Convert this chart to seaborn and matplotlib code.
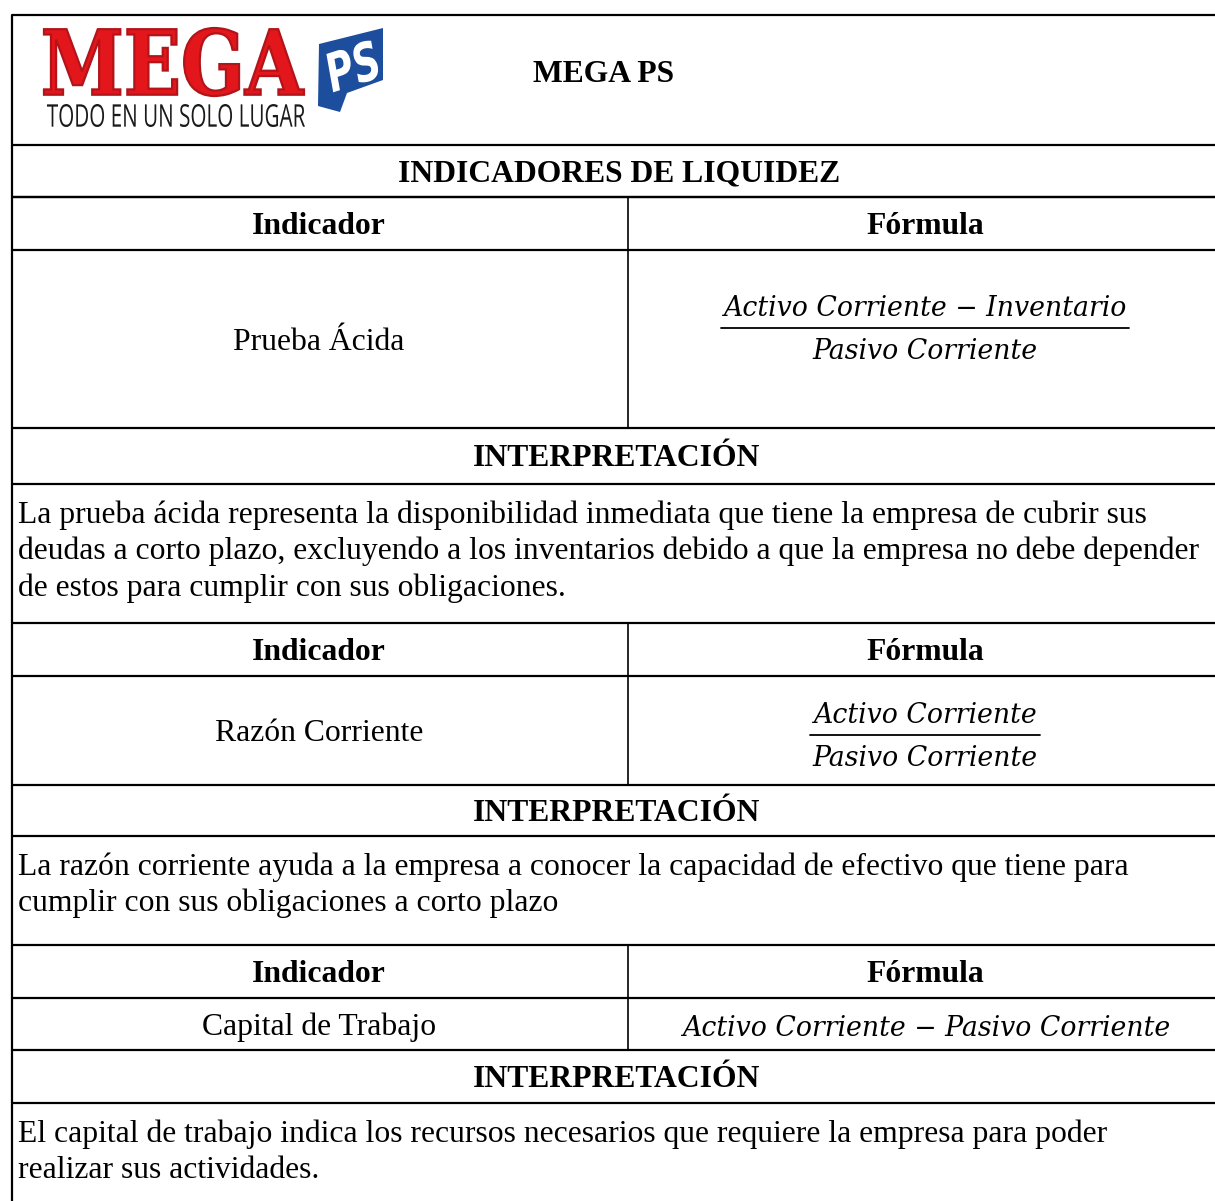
import matplotlib
matplotlib.use("Agg")
import matplotlib.pyplot as plt
import seaborn as sns
from matplotlib.textpath import TextPath
from matplotlib.patches import PathPatch, Polygon
from matplotlib.font_manager import FontProperties
from matplotlib.transforms import Affine2D

# ---- content ----
company = "MEGA PS"
logo_word = "MEGA"
logo_tagline = "TODO EN UN SOLO LUGAR"
section_title = "INDICADORES DE LIQUIDEZ"
col_headers = ["Indicador", "Fórmula"]
indicators = ["Prueba Ácida", "Razón Corriente", "Capital de Trabajo"]
numerators = ["Activo Corriente − Inventario", "Activo Corriente",
              "Activo Corriente − Pasivo Corriente"]
denominators = ["Pasivo Corriente", "Pasivo Corriente", None]
interp_title = "INTERPRETACIÓN"
interpretations = [
    ["La prueba ácida representa la disponibilidad inmediata que tiene la empresa de cubrir sus",
     "deudas a corto plazo, excluyendo a los inventarios debido a que la empresa no debe depender",
     "de estos para cumplir con sus obligaciones."],
    ["La razón corriente ayuda a la empresa a conocer la capacidad de efectivo que tiene para",
     "cumplir con sus obligaciones a corto plazo"],
    ["El capital de trabajo indica los recursos necesarios que requiere la empresa para poder",
     "realizar sus actividades."],
]

# ---- layout (pixels, y grows downward) ----
W, H = 1215, 1201
LEFT = 12
SPLIT = 628
blocks = [
    dict(head=(197, 250), body=(250, 428), bar=328, itop=(428, 484), text=484),
    dict(head=(623, 676), body=(676, 785), bar=735, itop=(785, 836), text=836),
    dict(head=(945, 998), body=(998, 1050), bar=None, itop=(1050, 1103), text=1103),
]
LINE_GAP = 36.5
FS = 22.8
DY = 3  # nudge so text sits like the original
SERIF = "Liberation Serif"
MATH = dict(family="DejaVu Serif", style="italic", fontsize=19.3, color="black")


def fit_text(ax, s, box, prop, color, edge=None, elw=0):
    """Squeeze a text path into the pixel box (x0, y0, x1, y1)."""
    x0, y0, x1, y1 = box
    tp = TextPath((0, 0), s, prop=prop, size=1)
    ext = tp.get_extents()
    sx = (x1 - x0) / ext.width
    sy = (y1 - y0) / ext.height
    tr = Affine2D().translate(-ext.x0, -ext.y0).scale(sx, -sy).translate(x0, y1)
    ax.add_patch(PathPatch(tr.transform_path(tp), fc=color, ec=edge or "none", lw=elw))


sns.set_theme(style="white")
plt.rcParams["text.color"] = "black"
fig = plt.figure(figsize=(W / 100, H / 100), dpi=100)
ax = fig.add_axes([0, 0, 1, 1])
ax.set_xlim(0, W)
ax.set_ylim(H, 0)
ax.axis("off")

lw = 1.6
hline = lambda y, x0=LEFT: ax.plot([x0, W], [y, y], color="black", lw=lw, solid_capstyle="butt")

# frame
ax.plot([LEFT, LEFT], [15, H], color="black", lw=lw)
for y in [15, 145, 197]:
    hline(y)

# logo
fit_text(ax, logo_word, (44, 28, 304, 96),
         FontProperties(family="DejaVu Serif", weight="bold"), "#E3161B",
         edge="#B3141A", elw=1.6)
fit_text(ax, logo_tagline, (47, 104, 305, 127),
         FontProperties(family="Open Sans"), "#1a1a1a")
ax.add_patch(Polygon([(319, 44), (383, 28), (383, 80), (347, 93), (340, 112), (318, 106)],
                     closed=True, fc="#1D4E9E", ec="none"))
ps = TextPath((0, 0), "PS", prop=FontProperties(family="DejaVu Sans", weight="bold",
                                                  style="italic"), size=1)
e = ps.get_extents()
tr = (Affine2D().translate(-e.x0 - e.width / 2, -e.y0 - e.height / 2)
      .scale(52 / e.width, -40 / e.height).rotate_deg(-18).translate(352, 66))
ax.add_patch(PathPatch(tr.transform_path(ps), fc="white", ec="none"))

ax.text(604, 72 + DY, company, ha="center", va="center", fontsize=FS,
        fontweight="bold", family=SERIF)
ax.text(619, 171 + DY, section_title, ha="center", va="center", fontsize=FS,
        fontweight="bold", family=SERIF)

fig.canvas.draw()
renderer = fig.canvas.get_renderer()


def width_px(t):
    return t.get_window_extent(renderer).width


for i, b in enumerate(blocks):
    h0, h1 = b["head"]
    b0, b1 = b["body"]
    i0, i1 = b["itop"]
    for y in [h0, h1, b1, i1]:
        hline(y)
    ax.plot([SPLIT, SPLIT], [h0, b1], color="black", lw=1.2)

    ax.text(319, (h0 + h1) / 2 + DY, col_headers[0], ha="center", va="center",
            fontsize=FS, fontweight="bold", family=SERIF)
    ax.text(925, (h0 + h1) / 2 + DY, col_headers[1], ha="center", va="center",
            fontsize=FS, fontweight="bold", family=SERIF)
    ax.text(319, (b0 + b1) / 2 + DY, indicators[i], ha="center", va="center",
            fontsize=FS, family=SERIF)

    if denominators[i] is None:
        ax.text(926, (b0 + b1) / 2 + 4, numerators[i], ha="center", va="center", **MATH)
    else:
        bar = b["bar"]
        tn = ax.text(925, bar - 6, numerators[i], ha="center", va="bottom", **MATH)
        td = ax.text(925, bar + 10, denominators[i], ha="center", va="top", **MATH)
        wpx = max(width_px(tn), width_px(td)) + 4
        ax.plot([925 - wpx / 2, 925 + wpx / 2], [bar, bar], color="black", lw=1.3)

    ax.text(617, (i0 + i1) / 2 + DY, interp_title, ha="center", va="center",
            fontsize=FS, fontweight="bold", family=SERIF)
    for k, line in enumerate(interpretations[i]):
        ax.text(18, b["text"] + 28 + DY + k * LINE_GAP, line, ha="left", va="center",
                fontsize=FS, family=SERIF)

fig.savefig("out.png", dpi=100, facecolor="white")
